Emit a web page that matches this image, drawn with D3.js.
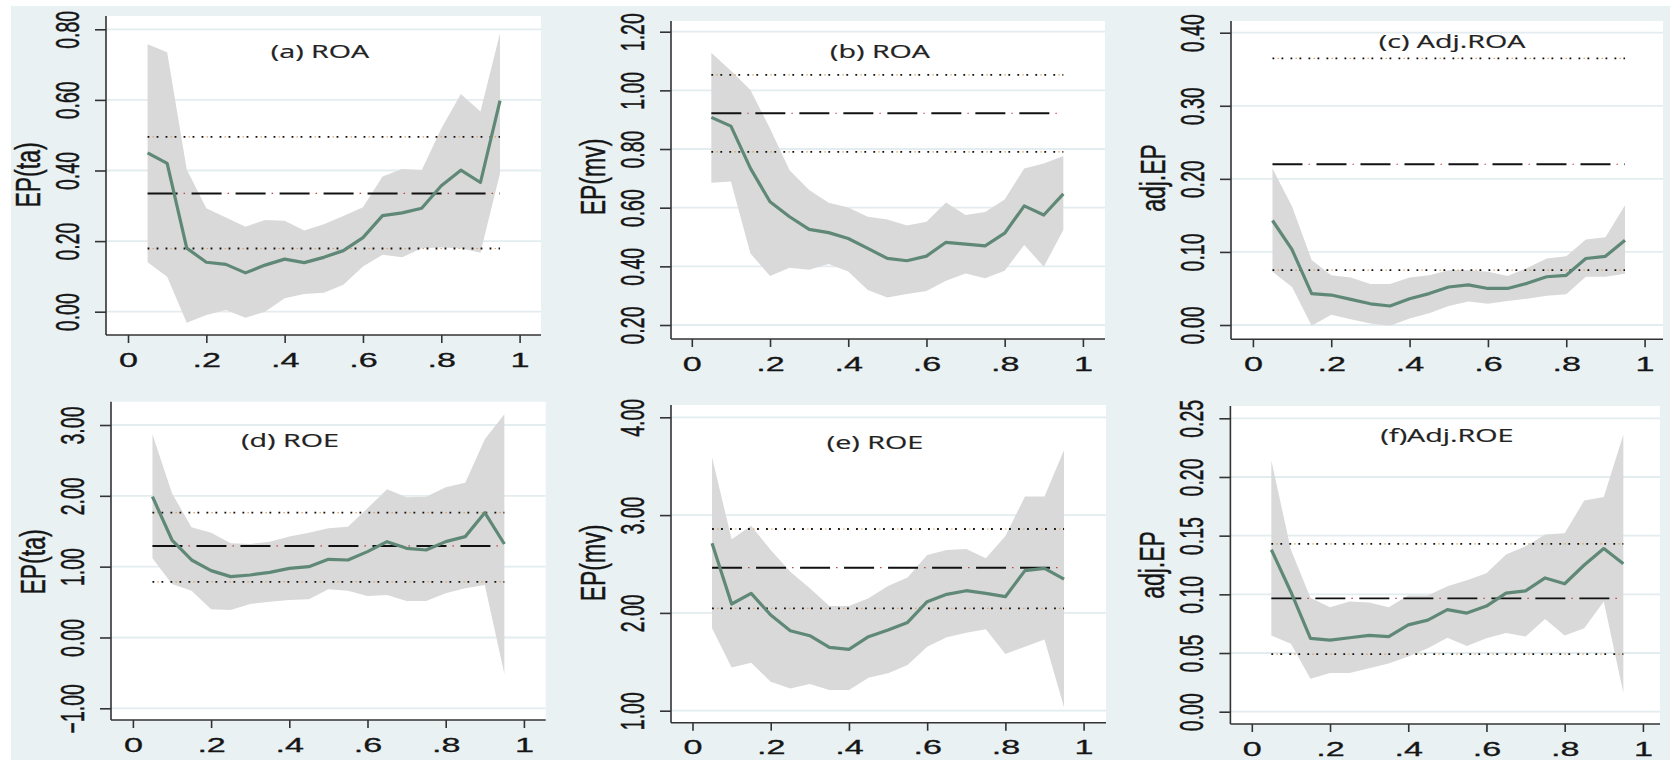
<!DOCTYPE html>
<html><head><meta charset="utf-8">
<script src="https://cdn.jsdelivr.net/npm/d3@7"></script>
<style>html,body{margin:0;padding:0;background:#fff;} svg{display:block}</style>
</head><body>
<svg id="chart" width="1670" height="760"></svg>
<script>
// ---------------- DATA ----------------
const quantiles = [0.05,0.10,0.15,0.20,0.25,0.30,0.35,0.40,0.45,0.50,0.55,0.60,0.65,0.70,0.75,0.80,0.85,0.90,0.95];
const xTickValues = [0,0.2,0.4,0.6,0.8,1];
const xTickLabels = ["0",".2",".4",".6",".8","1"];
const panelTitles = ["(a) ROA","(b) ROA","(c) Adj.ROA","(d) ROE","(e) ROE","(f)Adj.ROE"];
const yAxisTitles = ["EP(ta)","EP(mv)","adj.EP","EP(ta)","EP(mv)","adj.EP"];

const aYTicks = [0,0.2,0.4,0.6,0.8];
const bYTicks = [0.2,0.4,0.6,0.8,1.0,1.2];
const cYTicks = [0,0.1,0.2,0.3,0.4];
const dYTicks = [-1,0,1,2,3];
const eYTicks = [1,2,3,4];
const fYTicks = [0,0.05,0.10,0.15,0.20,0.25];

const aCoef  = [0.450,0.420,0.180,0.140,0.134,0.110,0.132,0.149,0.139,0.154,0.173,0.210,0.272,0.280,0.293,0.357,0.401,0.366,0.598];
const aUpper = [0.758,0.735,0.403,0.293,0.267,0.241,0.260,0.258,0.230,0.248,0.271,0.296,0.383,0.404,0.401,0.519,0.617,0.567,0.789];
const aLower = [0.140,0.099,-0.031,-0.009,0.005,-0.017,0.000,0.038,0.050,0.054,0.076,0.128,0.161,0.154,0.180,0.182,0.180,0.167,0.392];

const bCoef  = [0.908,0.878,0.734,0.620,0.569,0.526,0.515,0.495,0.461,0.427,0.419,0.435,0.482,0.476,0.470,0.513,0.606,0.575,0.647];
const bUpper = [1.128,1.067,1.001,0.870,0.728,0.660,0.617,0.601,0.569,0.560,0.539,0.552,0.618,0.575,0.585,0.628,0.734,0.751,0.776];
const bLower = [0.685,0.689,0.444,0.367,0.395,0.388,0.408,0.382,0.319,0.294,0.306,0.316,0.351,0.376,0.359,0.385,0.473,0.399,0.524];

const cCoef  = [0.143,0.103,0.043,0.041,0.035,0.029,0.026,0.036,0.043,0.052,0.055,0.050,0.050,0.057,0.066,0.068,0.091,0.094,0.116];
const cUpper = [0.214,0.162,0.089,0.068,0.065,0.056,0.056,0.065,0.068,0.075,0.075,0.073,0.067,0.078,0.091,0.094,0.117,0.120,0.164];
const cLower = [0.073,0.052,-0.001,0.014,0.008,0.002,-0.001,0.009,0.016,0.026,0.032,0.029,0.033,0.036,0.040,0.042,0.066,0.066,0.070];

const dCoef  = [1.988,1.376,1.094,0.944,0.859,0.882,0.920,0.976,1.000,1.104,1.094,1.212,1.353,1.259,1.235,1.353,1.424,1.762,1.320];
const dUpper = [2.868,2.035,1.555,1.480,1.329,1.320,1.353,1.424,1.480,1.541,1.565,1.824,2.092,1.979,1.988,2.120,2.186,2.798,3.151];
const dLower = [1.118,0.755,0.661,0.398,0.388,0.473,0.506,0.529,0.539,0.680,0.661,0.586,0.600,0.515,0.515,0.624,0.694,0.741,-0.515];

const eCoef  = [2.711,2.091,2.200,1.978,1.818,1.767,1.647,1.627,1.757,1.825,1.903,2.115,2.190,2.227,2.200,2.166,2.432,2.456,2.346];
const eUpper = [3.591,2.752,2.892,2.643,2.421,2.251,2.070,2.070,2.149,2.275,2.363,2.592,2.643,2.653,2.558,2.786,3.189,3.189,3.666];
const eLower = [1.842,1.443,1.491,1.296,1.228,1.272,1.211,1.211,1.337,1.382,1.467,1.654,1.750,1.797,1.832,1.579,1.654,1.729,1.034];

const fCoef  = [0.138,0.102,0.0625,0.061,0.063,0.065,0.064,0.074,0.078,0.087,0.084,0.090,0.101,0.103,0.114,0.109,0.125,0.139,0.126];
const fUpper = [0.214,0.138,0.097,0.089,0.094,0.093,0.089,0.099,0.099,0.107,0.112,0.118,0.134,0.141,0.151,0.152,0.180,0.183,0.236];
const fLower = [0.065,0.058,0.028,0.033,0.033,0.037,0.041,0.047,0.054,0.063,0.056,0.0625,0.067,0.064,0.079,0.065,0.071,0.094,0.016];

// OLS estimate and its confidence bounds, one per panel (a..f)
const olsEstimate = [0.335,0.922,0.220,1.292,2.462,0.0966];
const olsLower    = [0.179,0.790,0.075,0.784,2.046,0.049];
const olsUpper    = [0.495,1.053,0.365,1.762,2.858,0.143];

// ---------------- LAYOUT ----------------
const layout = [
  {left:106,  right:541,  top:16,    bottom:335,   x0:128,    x1:519.6,  yR:[311.7,29.3], title:[320,58.3],  yt:175},
  {left:671,  right:1105, top:21,    bottom:339,   x0:691.8,  x1:1082.9, yR:[325,31.7],   title:[880,58],    yt:177},
  {left:1231, right:1663, top:21,    bottom:339.3, x0:1252.9, x1:1644.6, yR:[325,32.7],   title:[1452,48.3], yt:178},
  {left:111,  right:545.7,top:401.7, bottom:720,   x0:132.9,  x1:523.9,  yR:[708.3,425],  title:[290,446.7], yt:562},
  {left:671,  right:1106, top:405,   bottom:722.7, x0:692.5,  x1:1083.6, yR:[710.7,417.3],title:[875,449],   yt:563},
  {left:1230.4,right:1660,top:406,   bottom:724,   x0:1251.8, x1:1642.9, yR:[711.7,418.3],title:[1447,441.7],yt:565}
];
const series = [
  {coef:aCoef, up:aUpper, lo:aLower, ticks:aYTicks},
  {coef:bCoef, up:bUpper, lo:bLower, ticks:bYTicks},
  {coef:cCoef, up:cUpper, lo:cLower, ticks:cYTicks},
  {coef:dCoef, up:dUpper, lo:dLower, ticks:dYTicks},
  {coef:eCoef, up:eUpper, lo:eLower, ticks:eYTicks},
  {coef:fCoef, up:fUpper, lo:fLower, ticks:fYTicks}
];

const BG = "#E9F1F3", GRID = "#E3ECEF", BAND = "#D9D9D9", LINE = "#5F8877", AX = "#333";
const SX_TICK = 1.75, SX_YT = 1.5, SX_TITLE = 1.55;
const FONT = "'Liberation Sans', Arial, sans-serif";

const svg = d3.select("#chart");
svg.append("rect").attr("x",11).attr("y",6).attr("width",1670-11).attr("height",760-6).attr("fill",BG);

series.forEach((s,i)=>{
  const L = layout[i];
  const g = svg.append("g");
  const x = d3.scaleLinear().domain([0,1]).range([L.x0,L.x1]);
  const y = d3.scaleLinear().domain([s.ticks[0], s.ticks[s.ticks.length-1]]).range(L.yR);

  g.append("rect").attr("x",L.left).attr("y",L.top).attr("width",L.right-L.left).attr("height",L.bottom-L.top).attr("fill","#fff");
  // grid
  g.selectAll(".grid").data(s.ticks).join("line")
    .attr("x1",L.left).attr("x2",L.right).attr("y1",d=>y(d)).attr("y2",d=>y(d))
    .attr("stroke",GRID).attr("stroke-width",1.8);

  const pts = quantiles.map((q,k)=>({q, c:s.coef[k], u:s.up[k], l:s.lo[k]}));
  g.append("path").datum(pts)
    .attr("d", d3.area().x(d=>x(d.q)).y0(d=>y(d.l)).y1(d=>y(d.u)))
    .attr("fill",BAND);

  const qmin = quantiles[0], qmax = quantiles[quantiles.length-1];
  // OLS dotted bounds
  [olsLower[i], olsUpper[i]].forEach(v=>{
    g.append("line").attr("x1",x(qmin)).attr("x2",x(qmax)).attr("y1",y(v)).attr("y2",y(v))
      .attr("stroke","#111").attr("stroke-width",1.8).attr("stroke-dasharray","1.8,7.2");
    g.append("line").attr("x1",x(qmin)).attr("x2",x(qmax)).attr("y1",y(v)).attr("y2",y(v))
      .attr("stroke","#E0A050").attr("stroke-width",1.2).attr("stroke-dasharray","1.4,16.6").attr("stroke-dashoffset",-5);
  });
  // OLS dashed estimate
  g.append("line").attr("x1",x(qmin)).attr("x2",x(qmax)).attr("y1",y(olsEstimate[i])).attr("y2",y(olsEstimate[i]))
    .attr("stroke","#111").attr("stroke-width",1.9).attr("stroke-dasharray","30,14");
  g.append("line").attr("x1",x(qmin)).attr("x2",x(qmax)).attr("y1",y(olsEstimate[i])).attr("y2",y(olsEstimate[i]))
    .attr("stroke","#C84040").attr("stroke-width",1.2).attr("stroke-dasharray","1.5,42.5").attr("stroke-dashoffset",-36);

  // quantile coefficient line
  g.append("path").datum(pts)
    .attr("d", d3.line().x(d=>x(d.q)).y(d=>y(d.c)))
    .attr("fill","none").attr("stroke",LINE).attr("stroke-width",3.2).attr("stroke-linejoin","round");

  // axes
  const xa = g.append("g").attr("transform",`translate(0,${L.bottom})`)
    .call(d3.axisBottom(x).tickValues(xTickValues).tickSize(8).tickFormat((d,k)=>xTickLabels[k]).tickSizeOuter(0));
  xa.select(".domain").attr("d",`M${L.left},0H${L.right}`).attr("stroke",AX).attr("stroke-width",1.6);
  xa.selectAll(".tick line").attr("stroke",AX).attr("stroke-width",1.6);
  xa.selectAll(".tick text").attr("y",0).attr("dy",0)
    .attr("transform",`translate(0,31.5) scale(${SX_TICK},1)`)
    .attr("font-family",FONT).attr("font-size",19.5).attr("fill","#151515")
    .attr("stroke","#151515").attr("stroke-width",0.3);

  const ya = g.append("g").attr("transform",`translate(${L.left},0)`)
    .call(d3.axisLeft(y).tickValues(s.ticks).tickSize(11).tickFormat(d3.format(".2f")).tickSizeOuter(0));
  ya.select(".domain").attr("d",`M0,${L.top}V${L.bottom}`).attr("stroke",AX).attr("stroke-width",1.6);
  ya.selectAll(".tick line").attr("stroke",AX).attr("stroke-width",1.6);
  ya.selectAll(".tick text").attr("x",0).attr("dy",0).attr("text-anchor","middle")
    .attr("transform",`translate(-27,0) scale(${SX_TICK},1) rotate(-90)`)
    .attr("font-family",FONT).attr("font-size",19.5).attr("fill","#151515")
    .attr("stroke","#151515").attr("stroke-width",0.3);

  // y axis title
  g.append("text").text(yAxisTitles[i])
    .attr("transform",`translate(${L.left-66},${L.yt}) scale(${SX_YT},1) rotate(-90)`)
    .attr("text-anchor","middle").attr("font-family",FONT)
    .attr("font-size",23).attr("fill","#151515").attr("stroke","#151515").attr("stroke-width",0.3);

  // panel title
  g.append("text").text(panelTitles[i])
    .attr("transform",`translate(${L.title[0]},${L.title[1]}) scale(${SX_TITLE},1)`)
    .attr("text-anchor","middle").attr("font-family","'Open Sans', sans-serif")
    .attr("font-size",18.5).attr("fill","#222").attr("stroke","#222").attr("stroke-width",0.2);
});
</script></body></html>
